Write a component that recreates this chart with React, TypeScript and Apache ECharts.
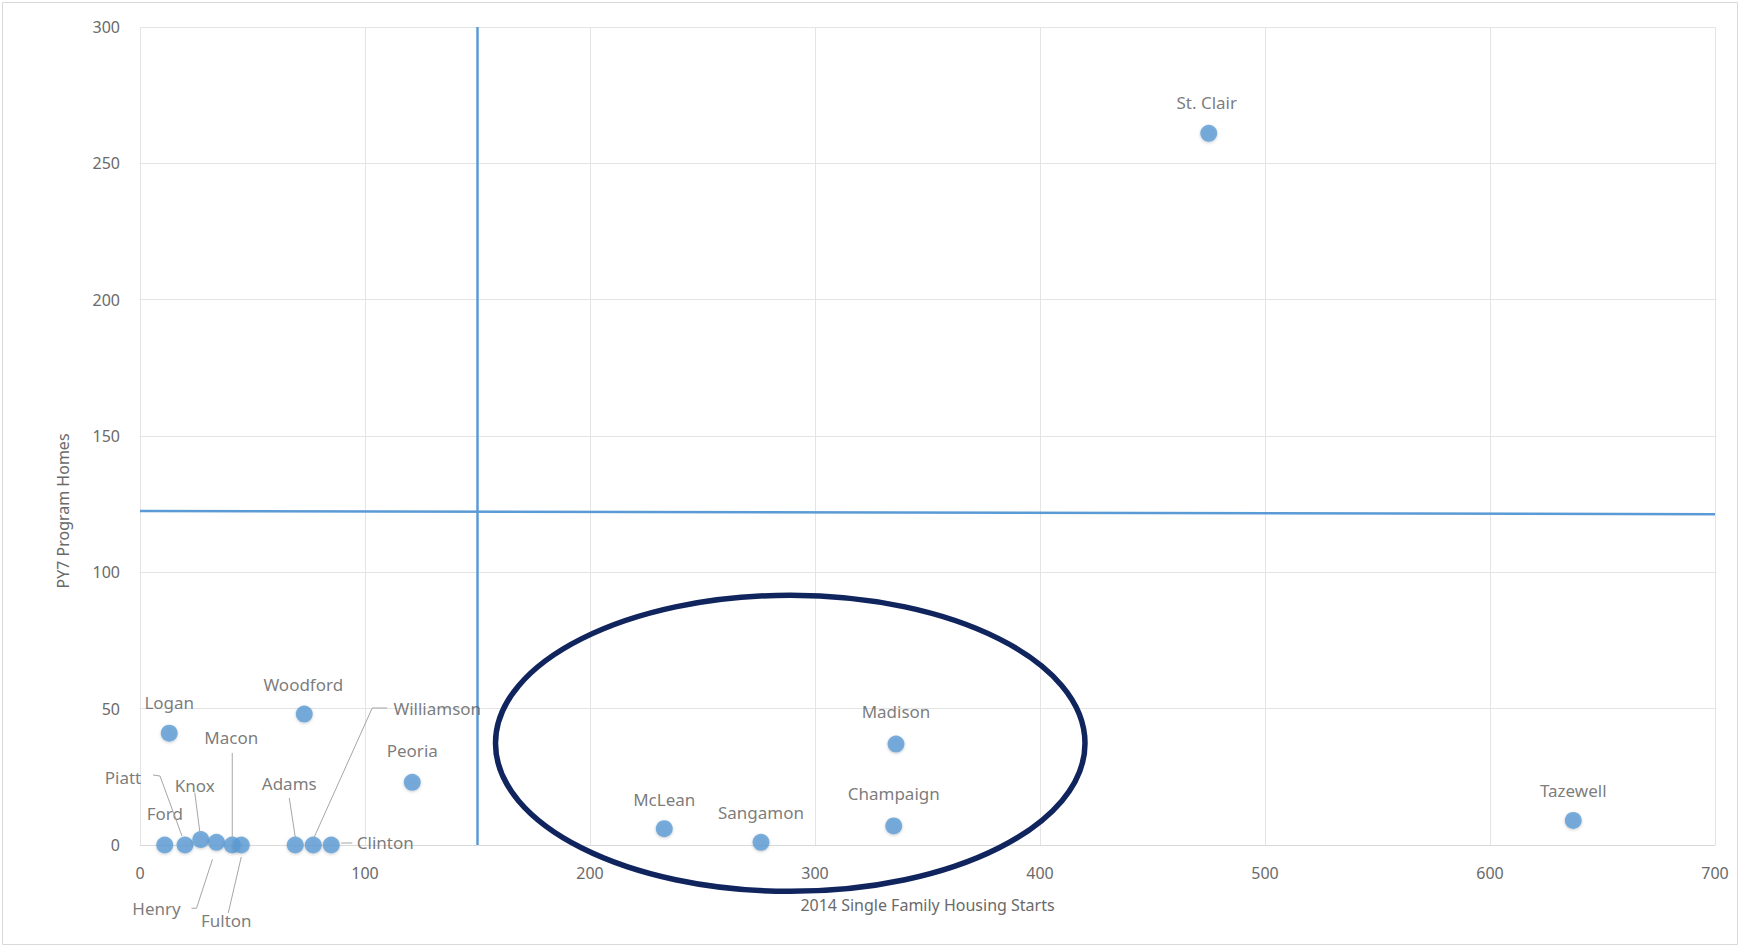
import React, { useEffect, useRef } from "react";
import * as echarts from "echarts";

// ---- data ----
const counties = [
  "Logan", "Ford", "Piatt", "Knox", "Henry", "Macon", "Fulton", "Woodford", "Adams",
  "Williamson", "Clinton", "Peoria", "McLean", "Sangamon", "Champaign", "Madison", "St. Clair", "Tazewell",
];
const housingStarts = [13, 11, 20, 27, 34, 41, 45, 73, 69, 77, 85, 121, 233, 276, 335, 336, 475, 637];
const programHomes = [41, 0, 0, 2, 1, 0, 0, 48, 0, 0, 0, 23, 6, 1, 7, 37, 261, 9];

const xTicks = [0, 100, 200, 300, 400, 500, 600, 700];
const yTicks = [0, 50, 100, 150, 200, 250, 300];

// reference lines (data units)
const startsThreshold = 150;
const homesThresholdAtMin = 122.5;
const homesThresholdAtMax = 121.3;

// highlight ellipse (data units)
const ellipseCenter = [289, 37.3];
const ellipseRadii = [131, 54.3];

// ---- label layout (pixels, relative to the point) ----
const labelOffsets: Record<string, [number, number]> = {
  Logan: [0, -31],
  Woodford: [-1, -30],
  Peoria: [0, -32],
  "St. Clair": [-2, -31],
  McLean: [0, -29],
  Sangamon: [0, -30],
  Champaign: [0, -32],
  Madison: [0, -33],
  Tazewell: [0, -30],
  Ford: [0, -32],
  Piatt: [-62, -68],
  Knox: [-6, -54],
  Henry: [-60, 66],
  Macon: [-1, -108],
  Fulton: [-15, 75],
  Adams: [-6, -62],
  Williamson: [124, -137],
  Clinton: [54, -3],
};
const leaders: Record<string, number[][]> = {
  Piatt: [[-32, -70], [-25, -69], [-3, -9]],
  Knox: [[-6, -47], [-1, -8]],
  Henry: [[-25, 66], [-20, 66], [-4, 17]],
  Macon: [[0, -92], [0, -8]],
  Fulton: [[-13, 68], [0, 12]],
  Adams: [[-6, -47], [0, -8]],
  Williamson: [[74, -137], [59, -137], [1, -8]],
  Clinton: [[10, -2], [21, -2]],
};

const FONT = "'Noto Sans', 'Open Sans', sans-serif";
const TEXT = "#595959";
const TICK = "#6A6A6A";
const BLUE = "#5B9BD5";

export default function App() {
  const ref = useRef<HTMLDivElement>(null);
  useEffect(() => {
    if (!ref.current) return;
    const chart = echarts.init(ref.current, null, { renderer: "svg" });
    const points = counties.map((name, i) => ({
      name,
      value: [housingStarts[i], programHomes[i]],
      label: { offset: labelOffsets[name] || [0, -30] },
    }));
    chart.setOption({
      animation: false,
      backgroundColor: "#ffffff",
      grid: { left: 140, right: 26, top: 27, bottom: 103, containLabel: false },
      xAxis: {
        type: "value",
        min: xTicks[0],
        max: xTicks[xTicks.length - 1],
        interval: xTicks[1] - xTicks[0],
        name: "2014 Single Family Housing Starts",
        nameLocation: "middle",
        nameGap: 52,
        nameTextStyle: { color: TICK, fontFamily: FONT, fontSize: 16 },
        axisLine: { show: true, lineStyle: { color: "#D9D9D9", width: 1 } },
        axisTick: { show: false },
        axisLabel: { color: TICK, fontFamily: FONT, fontSize: 16, margin: 20 },
        splitLine: { show: true, lineStyle: { color: "#E4E4E4", width: 1 } },
      },
      yAxis: {
        type: "value",
        min: yTicks[0],
        max: yTicks[yTicks.length - 1],
        interval: yTicks[1] - yTicks[0],
        axisLine: { show: false },
        axisTick: { show: false },
        axisLabel: { color: TICK, fontFamily: FONT, fontSize: 16, margin: 20 },
        splitLine: { show: true, lineStyle: { color: "#E4E4E4", width: 1 } },
      },
      series: [
        {
          type: "scatter",
          symbol: "circle",
          symbolSize: 17,
          itemStyle: { color: BLUE, shadowBlur: 3, shadowColor: "rgba(0,0,0,0.25)", shadowOffsetY: 1 },
          label: {
            show: true,
            position: "inside",
            formatter: "{b}",
            color: TEXT,
            fontFamily: FONT,
            fontSize: 17,
          },
          data: points,
          z: 5,
          markLine: {
            silent: true,
            symbol: "none",
            label: { show: false },
            lineStyle: { color: BLUE, width: 2.5, type: "solid" },
            data: [
              [{ coord: [startsThreshold, yTicks[0]] }, { coord: [startsThreshold, yTicks[yTicks.length - 1]] }],
              [{ coord: [xTicks[0], homesThresholdAtMin] }, { coord: [xTicks[xTicks.length - 1], homesThresholdAtMax] }],
            ],
          },
        },
      ],
    });

    const px = (v: number[]) => chart.convertToPixel({ gridIndex: 0 }, v) as number[];
    const graphics: any[] = [];
    graphics.push({
      type: "rect",
      shape: { x: 2.5, y: 2.5, width: 1735, height: 942 },
      style: { fill: "none", stroke: "#D9D9D9", lineWidth: 1 },
      z: 0,
      silent: true,
    });
    graphics.push({
      type: "text",
      x: 63,
      y: 511,
      rotation: Math.PI / 2,
      style: {
        text: "PY7 Program Homes",
        fill: TICK,
        font: `16px ${FONT}`,
        align: "center",
        verticalAlign: "middle",
      },
    });
    counties.forEach((name, i) => {
      const pts = leaders[name];
      if (!pts) return;
      const p = px([housingStarts[i], programHomes[i]]);
      graphics.push({
        type: "polyline",
        shape: { points: pts.map((d) => [p[0] + d[0], p[1] + d[1]]) },
        style: { stroke: "#A6A6A6", lineWidth: 1, fill: "none" },
        z: 10,
        silent: true,
      });
    });
    const c = px(ellipseCenter);
    const e = px([ellipseCenter[0] + ellipseRadii[0], ellipseCenter[1] + ellipseRadii[1]]);
    graphics.push({
      type: "ellipse",
      shape: { cx: c[0], cy: c[1], rx: Math.abs(e[0] - c[0]), ry: Math.abs(c[1] - e[1]) },
      style: { fill: "none", stroke: "#10245E", lineWidth: 5.5 },
      z: 20,
      silent: true,
    });
    chart.setOption({ graphic: graphics });

    return () => chart.dispose();
  }, []);
  return (
    <div
      ref={ref}
      style={{ position: "absolute", left: 0, top: 0, width: 1741, height: 948 }}
    />
  );
}
